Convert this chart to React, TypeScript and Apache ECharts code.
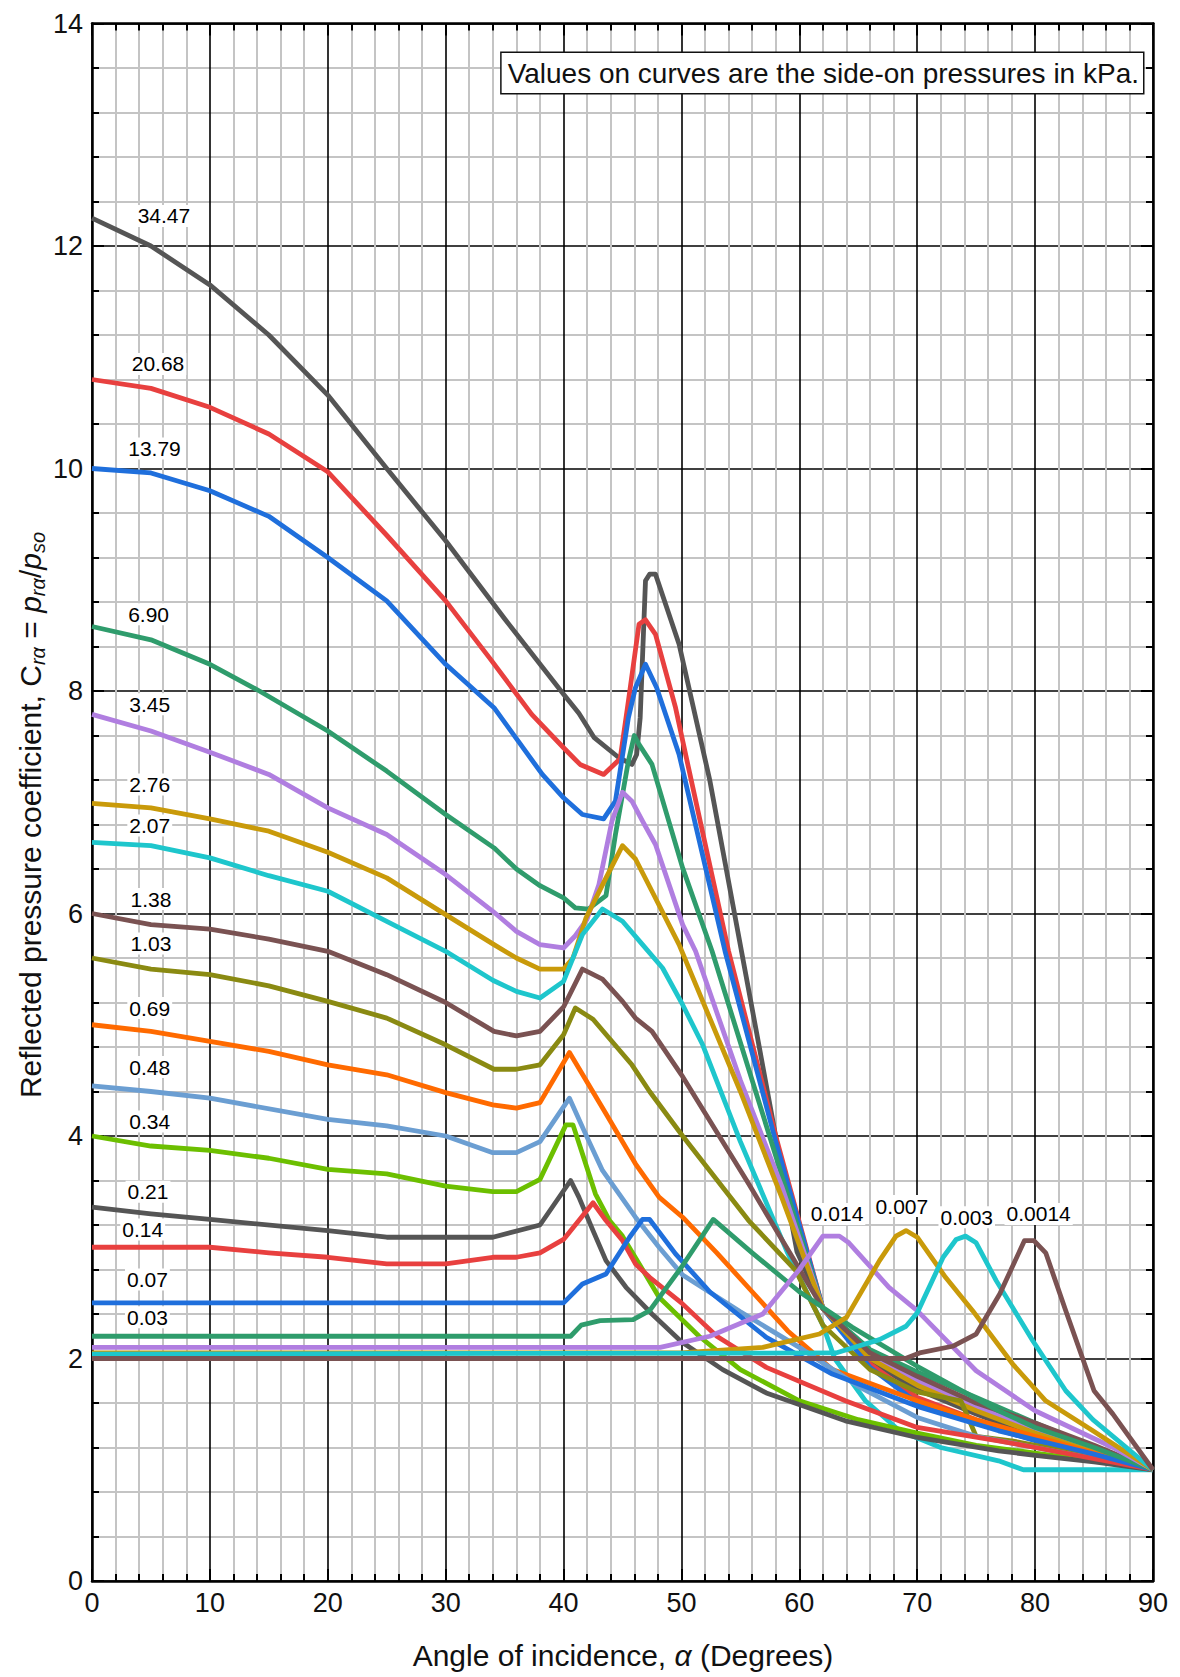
import React, { useEffect, useRef } from "react";
import * as echarts from "echarts";

const FONT = '"Liberation Sans", Arial, Helvetica, sans-serif';

// ---- Curve data: [angle (deg), C_ra] ----
const c34_47 = [[0,12.25],[5,12.0],[10,11.65],[15,11.2],[20,10.66],[25,10.0],[30,9.35],[35,8.65],[40,7.97],[41.3,7.8],[42.6,7.58],[44.7,7.4],[45.8,7.34],[46.2,7.43],[46.5,7.76],[46.95,8.99],[47.3,9.05],[47.8,9.05],[49.8,8.42],[52.4,7.2],[56.6,4.8],[59.8,2.96],[62,2.45],[66,1.98],[70,1.72],[75,1.5],[80,1.3],[85,1.15],[90,1.0]];
const c20_68 = [[0,10.8],[5,10.72],[10,10.55],[15,10.31],[20,9.97],[25,9.4],[30,8.81],[33.7,8.3],[37.3,7.79],[40,7.49],[41.4,7.34],[43.4,7.25],[44.8,7.39],[45.5,7.91],[46.4,8.6],[46.95,8.64],[47.8,8.51],[49.5,7.85],[50.6,7.31],[54,5.66],[58,4.0],[62,2.45],[66,1.95],[70,1.65],[75,1.45],[80,1.28],[85,1.14],[90,1.0]];
const c13_79 = [[0,10.0],[5,9.96],[10,9.8],[15,9.57],[20,9.2],[25,8.81],[30,8.24],[34.1,7.85],[38.2,7.25],[40,7.04],[41.6,6.89],[43.4,6.85],[44.4,7.01],[45.5,7.76],[46.1,8.03],[46.95,8.24],[47.9,8.03],[49.8,7.43],[53.7,5.66],[58,3.95],[62,2.45],[66,1.92],[70,1.6],[75,1.42],[80,1.26],[85,1.13],[90,1.0]];
const c6_90 = [[0,8.58],[5,8.46],[10,8.24],[14.2,8.0],[20,7.64],[25,7.28],[30,6.89],[34.1,6.59],[36,6.4],[38,6.25],[40,6.14],[41,6.05],[42.1,6.04],[43.6,6.16],[44.4,6.71],[45.5,7.37],[46,7.6],[46.4,7.52],[47.5,7.34],[50.1,6.41],[52.6,5.66],[55,4.84],[58,3.82],[62,2.45],[66,2.08],[70,1.88],[75,1.65],[80,1.42],[85,1.2],[90,1.0]];
const c3_45 = [[0,7.79],[5,7.64],[10,7.45],[15,7.25],[20,6.95],[25,6.71],[30,6.35],[34,6.02],[36,5.84],[38,5.72],[40,5.69],[41,5.8],[42,5.95],[43,6.26],[44.1,6.83],[45,7.09],[45.8,7.01],[46.7,6.83],[47.8,6.62],[50.1,5.9],[51.2,5.66],[55,4.5],[58.5,3.55],[62,2.45],[66,2.02],[70,1.8],[75,1.57],[80,1.37],[85,1.18],[90,1.0]];
const c2_76 = [[0,6.99],[5,6.95],[10,6.85],[15,6.74],[20,6.55],[25,6.32],[30,5.99],[34.1,5.72],[36,5.6],[38,5.5],[40,5.5],[40.8,5.6],[41.9,5.96],[43.6,6.32],[45,6.61],[46.1,6.49],[47.5,6.2],[49.8,5.72],[55,4.4],[58.5,3.45],[62,2.45],[66,2.0],[70,1.76],[75,1.53],[80,1.33],[85,1.16],[90,1.0]];
const c2_07 = [[0,6.64],[5,6.61],[10,6.5],[15,6.34],[20,6.2],[25,5.93],[30,5.66],[34,5.4],[36,5.3],[38,5.24],[40,5.39],[41.6,5.81],[43.3,6.04],[45,5.93],[46.7,5.72],[48.4,5.51],[50.1,5.18],[51.8,4.82],[55,3.95],[59,2.95],[62,2.3],[63,2.0],[65.6,1.62],[68.5,1.35],[72,1.2],[76.9,1.08],[79,1.0],[90,1.0]];
const c1_38 = [[0,6.0],[5,5.9],[10,5.86],[15,5.77],[20,5.66],[25,5.45],[30,5.2],[34.1,4.94],[36,4.9],[38,4.94],[40,5.16],[41.6,5.5],[43.3,5.41],[45,5.21],[46.1,5.06],[47.5,4.94],[50,4.55],[55.7,3.57],[62,2.45],[66,2.05],[70,1.84],[75,1.6],[80,1.42],[85,1.22],[90,1.0]];
const c1_03 = [[0,5.6],[5,5.5],[10,5.45],[15,5.35],[20,5.21],[25,5.06],[30,4.82],[34.1,4.6],[36,4.6],[38,4.64],[40,4.91],[41,5.15],[42.5,5.05],[45.8,4.64],[47.3,4.4],[50.1,4.0],[55.7,3.24],[59.7,2.79],[62,2.3],[66,1.9],[70,1.7],[73.7,1.62],[75,1.3],[78,1.26],[85,1.12],[90,1.0]];
const c0_69 = [[0,5.0],[5,4.94],[10,4.85],[15,4.76],[20,4.64],[25,4.55],[30,4.39],[34,4.28],[36,4.25],[38,4.3],[40.5,4.75],[43.6,4.2],[46.1,3.75],[48.1,3.45],[50.1,3.27],[53,2.95],[56,2.6],[59,2.25],[62.8,1.9],[70,1.62],[75,1.45],[80,1.3],[85,1.15],[90,1.0]];
const c0_48 = [[0,4.45],[5,4.4],[10,4.34],[20,4.15],[25,4.09],[30,4.0],[34,3.85],[36,3.85],[38,3.95],[40.5,4.34],[41.9,4.01],[43.3,3.69],[46.1,3.27],[48.1,3.0],[50.1,2.75],[55,2.42],[60,2.1],[65,1.75],[70,1.47],[75,1.3],[80,1.2],[85,1.1],[90,1.0]];
const c0_34 = [[0,4.0],[5,3.91],[10,3.87],[15,3.8],[20,3.7],[25,3.66],[30,3.55],[34,3.5],[36,3.5],[38,3.61],[40.2,4.1],[40.8,4.1],[41.6,3.84],[42.7,3.48],[43.9,3.24],[45,3.1],[46.7,2.8],[48.1,2.55],[51.5,2.2],[55,1.9],[60,1.62],[65,1.45],[70,1.33],[75,1.22],[80,1.15],[85,1.08],[90,1.0]];
const c0_21 = [[0,3.36],[5,3.3],[10,3.25],[20,3.15],[25,3.09],[30,3.09],[34,3.09],[38,3.2],[40.6,3.6],[41.3,3.45],[42.5,3.15],[43.6,2.88],[45.3,2.64],[47.5,2.4],[50,2.15],[53.5,1.9],[57.2,1.69],[63.9,1.44],[70,1.29],[76.9,1.17],[80,1.13],[85,1.07],[90,1.0]];
const c0_14 = [[0,3.0],[10,3.0],[15,2.95],[20,2.91],[25,2.85],[30,2.85],[34,2.91],[36,2.91],[38,2.95],[40,3.07],[41.3,3.24],[42.5,3.4],[43.6,3.24],[45,3.06],[46.1,2.85],[47.3,2.73],[50,2.5],[53,2.2],[57.2,1.92],[63.9,1.62],[70,1.38],[76.9,1.26],[80,1.2],[85,1.1],[90,1.0]];
const c0_07 = [[0,2.5],[40,2.5],[41.6,2.67],[43.6,2.76],[45.6,3.09],[46.7,3.25],[47.3,3.25],[49.5,2.94],[52.4,2.6],[57.2,2.19],[62.8,1.86],[70,1.57],[76.9,1.35],[80,1.27],[85,1.14],[90,1.0]];
const c0_03 = [[0,2.2],[40.6,2.2],[41.5,2.3],[43.1,2.34],[45.9,2.35],[47.3,2.43],[50,2.82],[52.7,3.25],[56,2.95],[60,2.6],[64.5,2.28],[70,1.93],[76.9,1.53],[80,1.38],[85,1.2],[90,1.0]];
const c0_014 = [[0,2.1],[48.2,2.1],[52.4,2.2],[56.9,2.4],[60,2.8],[62,3.1],[63.4,3.1],[64.2,3.04],[67.6,2.64],[70,2.43],[75,1.89],[80,1.53],[86.6,1.2],[90,1.0]];
const c0_007 = [[0,2.05],[50,2.05],[56.9,2.1],[61.7,2.22],[64,2.37],[66.8,2.88],[68.2,3.1],[69.05,3.15],[70,3.09],[72.4,2.73],[74.7,2.43],[78.1,1.95],[80.9,1.62],[84.9,1.35],[90,1.0]];
const c0_003 = [[0,2.04],[63.1,2.05],[66.8,2.17],[69.05,2.29],[70,2.41],[72.2,2.91],[73.3,3.07],[74.1,3.1],[75,3.04],[76.7,2.7],[79.8,2.16],[82.6,1.71],[84.9,1.45],[90,1.0]];
const c0_0014 = [[0,2.0],[69,2.0],[70.2,2.05],[73,2.11],[75,2.22],[77,2.58],[79.1,3.06],[79.9,3.06],[80.9,2.95],[82.6,2.43],[85,1.71],[86.6,1.5],[90,1.0]];

const curveNames = ["34.47","20.68","13.79","6.90","3.45","2.76","2.07","1.38","1.03","0.69","0.48","0.34","0.21","0.14","0.07","0.03","0.014","0.007","0.003","0.0014"];
const curveData = [c34_47,c20_68,c13_79,c6_90,c3_45,c2_76,c2_07,c1_38,c1_03,c0_69,c0_48,c0_34,c0_21,c0_14,c0_07,c0_03,c0_014,c0_007,c0_003,c0_0014];
const curveColors = ["#555555","#e8403f","#1f6fdc","#2f9c6c","#b07ee0","#c99a0a","#1ec6cc","#7a5252","#8a8a12","#ff6a00","#6b9ed2","#6cbf00","#555555","#e8403f","#1f6fdc","#2f9c6c","#b07ee0","#c99a0a","#1ec6cc","#7a5252"];

// Curve label anchors (data coordinates)
const labelX = [6.1,5.6,5.3,4.8,4.9,4.9,4.9,5.0,5.0,4.9,4.9,4.9,4.75,4.3,4.7,4.7,63.2,68.7,74.2,80.3];
const labelY = [12.27,10.94,10.18,8.69,7.88,7.16,6.79,6.13,5.73,5.15,4.62,4.13,3.5,3.16,2.71,2.37,3.3,3.37,3.27,3.3];

const xMin = 0, xMax = 90, xStep = 10;
const yMin = 0, yMax = 14, yStep = 2;

export default function App() {
  const ref = useRef<HTMLDivElement>(null);
  useEffect(() => {
    document.body.style.margin = "0";
    const chart = echarts.init(ref.current!, null, { renderer: "svg" });
    const axisCommon = {
      type: "value",
      axisLine: { show: true, onZero: false, lineStyle: { color: "#000", width: 2.5 } },
      axisTick: { show: true, inside: true, length: 12, lineStyle: { color: "#000", width: 2 } },
      minorTick: { show: true, splitNumber: 5, length: 7, lineStyle: { color: "#000", width: 2 } },
    };
    const series: any[] = curveData.map((d, i) => ({
      type: "line",
      name: curveNames[i],
      data: d,
      showSymbol: false,
      symbol: "none",
      silent: true,
      z: 3,
      lineStyle: { color: curveColors[i], width: 4.8, join: "round" },
    }));
    series.push({
      type: "scatter",
      data: labelX.map((x, i) => [x, labelY[i], curveNames[i]]),
      symbolSize: 1,
      itemStyle: { color: "#ffffff", opacity: 1 },
      silent: true,
      z: 10,
      label: {
        show: true,
        position: "inside",
        formatter: (p: any) => p.data[2],
        fontFamily: FONT,
        fontSize: 21,
        color: "#000",
        opacity: 1,
        backgroundColor: "#fff",
        padding: [1, 2, 0, 2],
      },
    });
    chart.setOption({
      animation: false,
      backgroundColor: "#fff",
      grid: { left: 92, right: 27, top: 23.5, bottom: 96, containLabel: false },
      xAxis: [
        {
          ...axisCommon,
          position: "bottom",
          min: xMin, max: xMax, interval: xStep,
          axisLabel: { show: true, margin: 8, fontSize: 27, fontFamily: FONT, color: "#111" },
          splitLine: { show: true, lineStyle: { color: "#000", width: 1.6 } },
          minorSplitLine: { show: true, lineStyle: { color: "#c4c4c4", width: 2 } },
        },
        {
          ...axisCommon,
          position: "top",
          min: xMin, max: xMax, interval: xStep,
          axisLabel: { show: false },
          splitLine: { show: false },
        },
      ],
      yAxis: [
        {
          ...axisCommon,
          position: "left",
          min: yMin, max: yMax, interval: yStep,
          axisLabel: { show: true, margin: 9, fontSize: 27, fontFamily: FONT, color: "#111" },
          splitLine: { show: true, lineStyle: { color: "#000", width: 1.6 } },
          minorSplitLine: { show: true, lineStyle: { color: "#c4c4c4", width: 2 } },
        },
        {
          ...axisCommon,
          position: "right",
          min: yMin, max: yMax, interval: yStep,
          axisLabel: { show: false },
          splitLine: { show: false },
        },
      ],
      series,
      graphic: [
        {
          type: "text",
          x: 1143,
          y: 73,
          z: 100,
          style: {
            text: "Values on curves are the side-on pressures in kPa.",
            font: `28px ${FONT}`,
            fill: "#111",
            align: "right",
            verticalAlign: "middle",
            backgroundColor: "#fff",
            borderColor: "#111",
            borderWidth: 1.5,
            padding: [7, 4, 5, 6],
          },
        },
        {
          type: "text",
          x: 623,
          y: 1655,
          z: 100,
          style: {
            text: "{a|Angle of incidence, }{i|α}{a| (Degrees)}",
            align: "center",
            verticalAlign: "middle",
            fill: "#111",
            rich: {
              a: { fontSize: 30, fontFamily: FONT, fill: "#111" },
              i: { fontSize: 30, fontFamily: FONT, fontStyle: "italic", fill: "#111" },
            },
          },
        },
        {
          type: "text",
          x: 30,
          y: 815,
          rotation: Math.PI / 2,
          z: 100,
          style: {
            text: "{a|Reflected pressure coefficient, C}{s|rα}{a| = }{i|p}{s|rα}{a|/}{i|p}{s|so}",
            align: "center",
            verticalAlign: "middle",
            fill: "#111",
            rich: {
              a: { fontSize: 30, fontFamily: FONT, fill: "#111", lineHeight: 36, verticalAlign: "middle" },
              i: { fontSize: 30, fontFamily: FONT, fontStyle: "italic", fill: "#111", lineHeight: 36, verticalAlign: "middle" },
              s: { fontSize: 20, fontFamily: FONT, fontStyle: "italic", fill: "#111", lineHeight: 18, verticalAlign: "bottom" },
            },
          },
        },
      ],
    });
    return () => chart.dispose();
  }, []);
  return <div ref={ref} style={{ width: 1180, height: 1677 }} />;
}
